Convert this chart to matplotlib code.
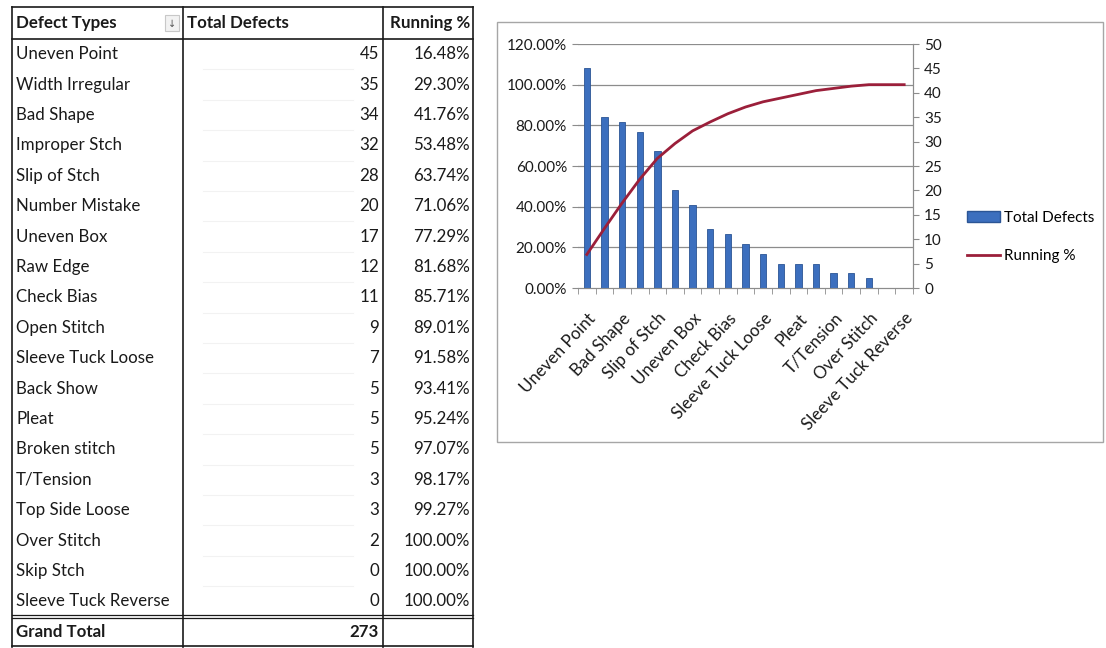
import matplotlib.pyplot as plt
import numpy as np
from matplotlib.lines import Line2D
from matplotlib.patches import Patch, Rectangle

defect_types = [
    "Uneven Point", "Width Irregular", "Bad Shape", "Improper Stch", "Slip of Stch",
    "Number Mistake", "Uneven Box", "Raw Edge", "Check Bias", "Open Stitch",
    "Sleeve Tuck Loose", "Back Show", "Pleat", "Broken stitch", "T/Tension",
    "Top Side Loose", "Over Stitch", "Skip Stch", "Sleeve Tuck Reverse",
]
total_defects = [45, 35, 34, 32, 28, 20, 17, 12, 11, 9, 7, 5, 5, 5, 3, 3, 2, 0, 0]
running_pct = [16.48, 29.30, 41.76, 53.48, 63.74, 71.06, 77.29, 81.68, 85.71, 89.01,
               91.58, 93.41, 95.24, 97.07, 98.17, 99.27, 100.00, 100.00, 100.00]
grand_total = 273
header = ["Defect Types", "Total Defects", "Running %"]

FONT = "Lato"
W, H = 1106, 648
TFS = 12.2

fig = plt.figure(figsize=(W / 100, H / 100), dpi=100)
bg = fig.add_axes([0, 0, 1, 1])
bg.set_xlim(0, W)
bg.set_ylim(H, 0)
bg.axis("off")

# ---- table on the left ----
col_x = [12, 183, 383, 473]
top = 7
head_h = 32
row_h = 30.4
n = len(defect_types)
bottom = top + head_h + row_h * (n + 1)
ink = "#1a1a1a"

for x in col_x:
    bg.plot([x, x], [top, bottom], color=ink, lw=1.2)
bg.plot([col_x[0], col_x[-1]], [top, top], color=ink, lw=1.2)
bg.plot([col_x[0], col_x[-1]], [top + head_h, top + head_h], color=ink, lw=1.2)
total_y = top + head_h + row_h * n
bg.plot([col_x[0], col_x[-1]], [total_y - 1.5, total_y - 1.5], color=ink, lw=0.9)
bg.plot([col_x[0], col_x[-1]], [total_y + 1.5, total_y + 1.5], color=ink, lw=0.9)
bg.plot([col_x[0], col_x[-1]], [bottom - 1, bottom - 1], color=ink, lw=1.2)
for i in range(1, n):
    y = top + head_h + row_h * i
    bg.plot([col_x[1] + 20, col_x[2] - 30], [y, y], color="#f2f2f2", lw=0.8)

hy = top + head_h / 2
bg.text(col_x[0] + 4, hy, header[0], ha="left", va="center", fontsize=TFS,
        fontweight="bold", family=FONT, color=ink)
bg.text(col_x[1] + 4, hy, header[1], ha="left", va="center", fontsize=TFS,
        fontweight="bold", family=FONT, color=ink)
bg.text(col_x[3] - 3, hy, header[2], ha="right", va="center", fontsize=TFS,
        fontweight="bold", family=FONT, color=ink)
bg.add_patch(Rectangle((165, 15), 14, 16, facecolor="#f2f2f2", edgecolor="#c8c8c8", lw=0.8))
bg.text(172, 24, "\u2193", ha="center", va="center", fontsize=7, color="#555555",
        family="DejaVu Sans")

for i, (name, count, pct) in enumerate(zip(defect_types, total_defects, running_pct)):
    y = top + head_h + row_h * (i + 0.5)
    bg.text(col_x[0] + 4, y, name, ha="left", va="center", fontsize=TFS, family=FONT, color=ink)
    bg.text(col_x[2] - 4, y, f"{count}", ha="right", va="center", fontsize=TFS,
            family=FONT, color=ink)
    bg.text(col_x[3] - 3, y, f"{pct:.2f}%", ha="right", va="center", fontsize=TFS,
            family=FONT, color=ink)
gy = total_y + row_h / 2
bg.text(col_x[0] + 4, gy, "Grand Total", ha="left", va="center", fontsize=TFS,
        fontweight="bold", family=FONT, color=ink)
bg.text(col_x[2] - 4, gy, f"{grand_total}", ha="right", va="center", fontsize=TFS,
        fontweight="bold", family=FONT, color=ink)

# ---- chart on the right ----
bg.add_patch(Rectangle((497, 22), 606, 420, facecolor="white", edgecolor="#a6a6a6", lw=1))

px_l, px_r, px_t, px_b = 578, 913, 44, 288
ax = fig.add_axes([px_l / W, 1 - px_b / H, (px_r - px_l) / W, (px_b - px_t) / H])
ax2 = ax.twinx()
ax.patch.set_visible(False)

x = np.arange(n)
ax.set_xlim(-0.5, n - 0.5)
ax.set_ylim(0, 1.2)
ax2.set_ylim(0, 50)

pct_ticks = np.arange(0, 1.21, 0.2)
for t in pct_ticks[1:]:
    ax.axhline(t, color="#8c8c8c", lw=0.9, zorder=0)
ax.set_yticks(pct_ticks)
ax.set_yticklabels([f"{t * 100:.2f}%" for t in pct_ticks], family=FONT, fontsize=11)
ax2.set_yticks(np.arange(0, 51, 5))
ax2.set_yticklabels([str(v) for v in range(0, 51, 5)], family=FONT, fontsize=11)

ax2.bar(x, total_defects, width=0.36, color="#3c6fbe", edgecolor="#2b5595", lw=0.6, zorder=2)
ax2.plot(x, np.array(running_pct) / 100, color="#9b1f3a", lw=2, zorder=3,
         transform=ax.transData)

for a in (ax, ax2):
    a.spines["top"].set_visible(False)
    a.spines["left"].set_visible(False)
    a.spines["right"].set_color("#8c8c8c")
    a.spines["bottom"].set_color("#8c8c8c")
    a.tick_params(axis="y", colors="#8c8c8c", labelcolor=ink, length=4, pad=4)

ax.set_xticks(x[::2])
ax.set_xticklabels(defect_types[::2], rotation=47, ha="right", rotation_mode="anchor",
                   family=FONT, fontsize=12.2, color=ink)
ax.set_xticks(np.arange(-0.5, n, 1), minor=True)
ax.tick_params(axis="x", which="major", length=0, pad=16)
ax.tick_params(axis="x", which="minor", length=4, color="#8c8c8c")
ax2.tick_params(axis="x", length=0)

handles = [
    Patch(facecolor="#3c6fbe", edgecolor="#2b5595", label="Total Defects"),
    Line2D([0], [0], color="#9b1f3a", lw=2, label="Running %"),
]
fig.legend(handles=handles, loc="center left", bbox_to_anchor=(953 / W, 1 - 237 / H),
           frameon=False, prop={"family": FONT, "size": 11}, handlelength=2.2,
           handletextpad=0.25, labelspacing=1.6)

fig.savefig("out.png", dpi=100, facecolor="white")
